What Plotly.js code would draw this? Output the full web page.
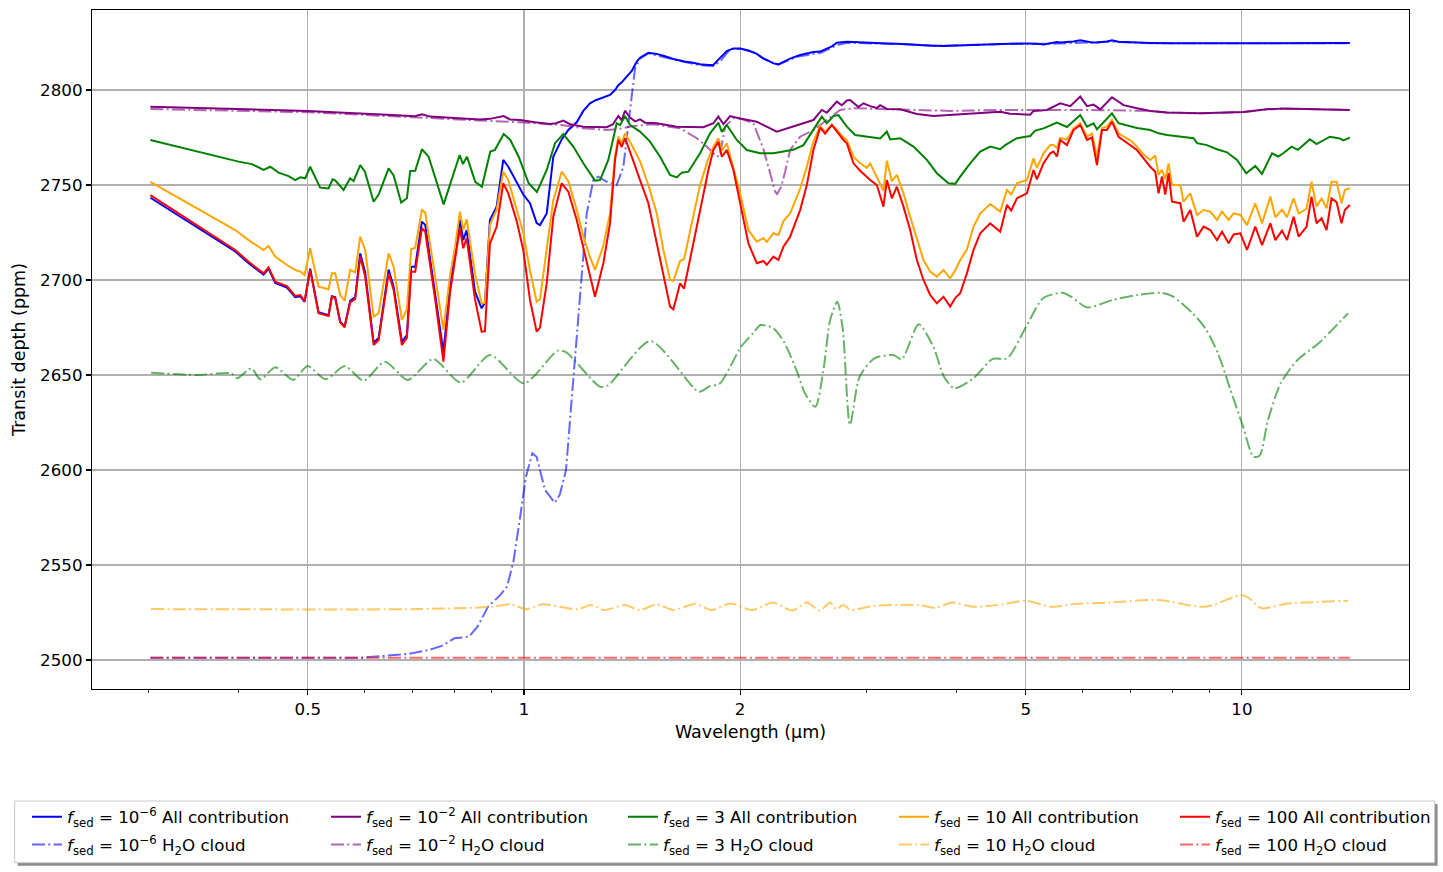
<!DOCTYPE html>
<html><head><meta charset="utf-8">
<script src="https://cdn.plot.ly/plotly-3.0.1.min.js"></script>
<style>html,body{margin:0;padding:0;background:#fff;overflow:hidden;width:1443px;height:872px}#chart{width:1443px;height:872px;overflow:hidden}</style>
</head><body><div id="chart"></div>
<script>
// ---------- DATA (wavelength in µm, transit depth in ppm) ----------
const wlMain = [0.3017,0.3447,0.3961,0.4135,0.4338,0.4408,0.4503,0.4675,0.4801,0.4879,
0.4948,0.5037,0.5174,0.5343,0.5400,0.5458,0.5546,0.5625,0.5727,0.5820,
0.5914,0.6009,0.6174,0.6274,0.6478,0.6583,0.6760,0.6869,0.6965,0.7055,
0.7208,0.7285,0.7523,0.7723,0.7886,0.8014,0.8143,0.8230,0.8320,0.8545,
0.8730,0.8823,0.8966,0.9161,0.9357,0.9509,0.9769,0.9977,1.0194,1.0415,
1.0527,1.0756,1.0986,1.1286,1.1528,1.1843,1.2096,1.2359,1.2559,1.2898,
1.3178,1.3391,1.3534,1.3682,1.3828,1.4129,1.4357,1.4510,1.4902,1.5308,
1.5637,1.5976,1.6146,1.6497,1.6710,1.7128,1.7591,1.8066,1.8357,1.8654,
1.8860,1.9164,1.9574,2.0000,2.0540,2.1101,2.1552,2.1788,2.2255,2.2615,
2.2981,2.3480,2.4246,2.4773,2.5302,2.5853,2.6271,2.6842,2.7276,2.7859,
2.8165,2.8768,2.9393,3.0031,3.0352,3.1011,3.1675,3.2022,3.2540,3.3066,
3.3775,3.4508,3.5258,3.6013,3.6795,3.7594,3.8399,3.9234,3.9868,4.0513,
4.1393,4.2279,4.3198,4.4607,4.6061,4.7061,4.7716,4.8596,5.0181,5.1256,
5.1818,5.2926,5.4077,5.4652,5.5252,5.5840,5.7053,5.8275,5.9541,6.0834,
6.1818,6.2817,6.3834,6.4866,6.5916,6.7326,6.8790,6.9902,7.1420,7.2949,
7.4535,7.5740,7.6546,7.7386,7.8210,7.9042,7.9910,8.2066,8.2939,8.4742,
8.6583,8.8437,9.0359,9.2322,9.3815,9.5822,9.7373,9.9490,10.165,10.439,
10.666,10.954,11.131,11.373,11.557,11.804,11.995,12.303,12.502,12.704,
12.910,13.119,13.331,13.546,13.765,13.911,14.137];

const red100All = [2744.7,2730.5,2715.8,2709.6,2703.5,2706.7,2699.1,2696.8,2691.6,2692.1,
2688.9,2705.3,2682.5,2681.0,2691.2,2690.5,2677.7,2675.1,2688.2,2690.0,
2712.3,2701.8,2665.8,2668.4,2703.5,2694.7,2665.8,2669.5,2704.4,2704.4,
2727.2,2725.5,2689.5,2657.0,2693.0,2710.5,2727.2,2716.7,2722.0,2690.0,
2672.8,2673.0,2719.3,2728.0,2750.9,2745.6,2731.0,2715.8,2689.5,2672.8,
2675.0,2698.2,2733.3,2750.9,2746.5,2731.6,2717.5,2703.5,2691.2,2708.8,
2729.8,2763.2,2773.7,2770.0,2774.6,2764.9,2758.0,2752.6,2740.4,2719.3,
2701.8,2686.0,2684.6,2698.2,2695.5,2715.8,2736.8,2757.9,2768.4,2772.8,
2764.9,2768.4,2757.9,2740.4,2719.3,2708.8,2710.0,2708.0,2712.3,2710.5,
2717.5,2722.8,2736.8,2750.0,2768.4,2780.2,2777.0,2781.6,2778.0,2773.7,
2772.0,2761.4,2757.5,2754.0,2752.6,2750.0,2738.6,2752.6,2743.0,2749.1,
2738.6,2726.3,2710.5,2700.0,2692.1,2687.7,2691.2,2686.0,2690.5,2693.0,
2703.5,2715.8,2724.6,2729.8,2725.4,2739.5,2736.5,2743.0,2745.6,2757.9,
2753.0,2761.4,2766.7,2767.6,2765.0,2773.7,2771.0,2778.9,2781.6,2773.7,
2775.0,2760.5,2778.9,2778.9,2783.3,2775.4,2773.0,2771.0,2768.4,2764.0,
2759.6,2757.0,2745.6,2754.4,2745.0,2756.2,2741.2,2740.4,2730.7,2736.8,
2722.8,2728.1,2726.3,2721.0,2725.4,2719.3,2724.0,2724.6,2715.8,2728.1,
2718.4,2729.8,2721.0,2726.0,2721.0,2733.3,2722.8,2728.0,2743.9,2729.8,
2732.5,2726.3,2743.0,2741.0,2729.8,2736.8,2739.5];

const orange10All = [2751.7,2739.2,2726.3,2721.0,2715.8,2717.9,2712.3,2707.9,2705.3,2704.5,
2702.6,2716.7,2696.5,2695.1,2703.5,2703.5,2692.1,2689.1,2705.3,2704.0,
2722.8,2715.8,2680.7,2682.5,2714.0,2707.0,2679.0,2684.5,2716.2,2717.0,
2736.8,2735.5,2701.8,2673.7,2702.0,2717.0,2736.0,2726.3,2732.0,2703.5,
2687.7,2688.0,2729.0,2737.0,2757.0,2752.6,2737.0,2725.0,2705.0,2688.6,
2690.0,2715.0,2742.0,2757.0,2752.0,2737.0,2723.0,2712.0,2705.3,2718.0,
2735.0,2765.0,2775.4,2772.0,2777.2,2771.0,2766.0,2762.5,2750.0,2735.0,
2715.8,2700.0,2699.5,2710.0,2711.0,2730.0,2750.0,2764.0,2770.0,2774.6,
2768.0,2772.0,2759.6,2745.6,2726.3,2720.2,2722.0,2720.0,2724.6,2723.7,
2731.0,2735.0,2748.0,2759.6,2773.0,2781.0,2778.0,2781.6,2779.0,2775.0,
2773.7,2764.9,2761.4,2759.0,2761.4,2754.0,2747.0,2762.8,2752.0,2755.3,
2745.6,2733.3,2721.9,2710.5,2704.4,2701.8,2705.3,2700.9,2705.0,2710.5,
2716.0,2728.0,2735.0,2740.0,2736.0,2747.4,2745.0,2750.9,2752.6,2764.0,
2759.0,2766.7,2771.0,2771.0,2769.5,2774.6,2774.0,2779.8,2782.5,2775.4,
2777.0,2764.9,2780.0,2780.7,2784.2,2777.2,2775.0,2773.5,2770.2,2766.0,
2763.2,2765.5,2755.3,2758.0,2753.0,2761.4,2750.0,2750.0,2741.2,2745.6,
2734.2,2736.8,2736.0,2731.6,2736.0,2731.6,2735.0,2734.2,2728.9,2740.4,
2729.8,2743.9,2733.0,2737.0,2733.0,2743.0,2735.0,2737.5,2751.7,2738.6,
2743.0,2737.7,2751.7,2751.7,2740.4,2747.4,2748.3];

const blue1e6All = [2743.3,2729.4,2715.0,2708.8,2702.8,2706.0,2698.5,2696.0,2691.0,2691.5,
2688.5,2706.0,2683.0,2681.5,2691.5,2691.0,2678.0,2675.5,2689.0,2691.0,
2714.0,2704.0,2667.0,2669.5,2705.5,2696.5,2667.5,2671.0,2707.0,2707.0,
2730.7,2729.0,2692.0,2662.0,2696.0,2714.0,2731.6,2721.0,2726.3,2694.0,
2685.1,2688.0,2731.6,2738.6,2763.2,2759.6,2751.7,2745.0,2740.4,2730.0,
2728.9,2735.0,2764.9,2774.0,2779.0,2783.0,2789.0,2793.0,2794.5,2796.0,
2797.4,2800.0,2802.5,2804.0,2805.8,2810.0,2814.9,2817.0,2819.6,2819.0,
2818.0,2816.7,2816.3,2815.5,2815.0,2814.5,2813.5,2813.2,2813.2,2816.0,
2818.0,2820.5,2821.9,2821.9,2820.8,2819.0,2816.5,2815.8,2814.0,2813.5,
2814.8,2816.5,2818.4,2819.2,2820.0,2820.2,2821.5,2823.0,2824.9,2825.2,
2825.4,2825.2,2825.0,2825.0,2824.9,2824.8,2824.6,2824.5,2824.4,2824.3,
2824.2,2824.0,2823.8,2823.6,2823.4,2823.2,2823.2,2823.3,2823.4,2823.5,
2823.6,2823.8,2824.0,2824.2,2824.3,2824.4,2824.4,2824.5,2824.5,2824.6,
2824.4,2824.0,2824.5,2825.0,2825.2,2825.0,2825.3,2825.5,2826.2,2825.3,
2825.0,2825.0,2825.2,2825.5,2826.2,2825.4,2825.2,2825.0,2824.9,2824.8,
2824.7,2824.6,2824.6,2824.6,2824.6,2824.6,2824.6,2824.6,2824.6,2824.6,
2824.6,2824.6,2824.6,2824.6,2824.6,2824.6,2824.6,2824.6,2824.7,2824.7,
2824.7,2824.7,2824.7,2824.7,2824.7,2824.7,2824.7,2824.7,2824.7,2824.7,
2824.7,2824.7,2824.7,2824.7,2824.7,2824.7,2824.7];

const wlBlueCloud = [0.3017,0.5946,0.6891,0.7372,0.7681,0.7998,0.8381,0.8617,0.8909,0.9259,
0.9469,0.9666,0.9863,1.0064,1.0273,1.0412,1.0697,1.1035,1.1217,1.1443,
1.1681,1.1904,1.2229,1.2490,1.2692,1.3039,1.3464,1.3753,1.4052,1.4279,
1.4510,1.4902,1.5976,1.7591,1.8357,1.8757,1.9368,2.0000,2.0872,2.1788,
2.2615,2.3990,2.5853,2.7276,2.8165,3.0352,3.3742,3.7594,4.6506,5.4077,
5.9541,6.5916,7.4535,14.137];
const blue1e6Cloud = [2501.2,2501.2,2503.2,2505.3,2507.4,2511.4,2512.3,2517.6,2528.0,2534.0,
2538.6,2551.7,2573.7,2596.5,2608.8,2607.0,2589.5,2582.8,2587.0,2600.0,
2642.0,2679.8,2735.0,2752.6,2754.4,2751.7,2750.0,2759.6,2791.2,2811.4,
2816.5,2819.3,2816.5,2813.0,2812.5,2815.0,2821.5,2821.7,2820.0,2815.6,
2813.3,2817.5,2819.5,2823.5,2824.8,2824.6,2824.2,2823.2,2824.2,2824.3,
2825.0,2825.4,2824.6,2824.6];

const wlPurpleAll = [0.3017,0.4995,0.6547,0.7048,0.7208,0.7396,0.8109,0.8683,0.8966,0.9169,
0.9370,0.9561,0.9872,1.0359,1.0870,1.1081,1.1344,1.1591,1.2096,1.3039,
1.3305,1.3534,1.3682,1.3828,1.4052,1.4279,1.4510,1.4745,1.5308,1.6323,
1.7778,1.8357,1.8654,1.8957,1.9368,2.0000,2.1101,2.2499,2.3730,2.5302,
2.5994,2.6415,2.7276,2.7717,2.8165,2.8465,2.9233,2.9706,3.0352,3.1011,
3.1341,3.2022,3.3419,3.5258,3.7186,3.9234,4.6061,4.7563,5.0716,5.1256,
5.3506,5.5840,5.7661,5.9541,6.0834,6.2136,6.3487,6.5916,6.8415,7.1420,
7.4535,7.8637,8.7506,10.055,10.824,11.416,14.137];
const purple1e2All = [2791.2,2789.0,2786.8,2786.2,2787.2,2786.0,2785.1,2784.5,2784.8,2785.5,
2786.3,2784.5,2784.2,2783.0,2782.1,2782.5,2783.9,2782.0,2780.7,2780.4,
2782.0,2786.3,2784.0,2789.1,2785.5,2783.5,2784.5,2782.8,2782.5,2780.7,
2780.4,2782.5,2786.0,2782.0,2786.3,2785.0,2783.3,2778.1,2781.0,2784.2,
2789.5,2788.0,2793.9,2792.0,2794.5,2794.7,2791.0,2793.0,2791.5,2790.5,
2792.0,2790.0,2789.8,2787.4,2786.3,2786.8,2788.6,2787.5,2787.0,2789.0,
2789.5,2793.0,2791.5,2796.5,2791.5,2792.3,2789.8,2796.2,2792.0,2790.4,
2789.0,2788.1,2787.7,2788.4,2789.8,2790.2,2789.5];

const wlPurpleCloud = [0.3017,0.4995,0.8109,0.9872,1.1344,1.2096,1.3039,1.3464,1.4202,1.5128,
1.6497,1.7405,1.7973,1.8559,1.8757,1.9060,1.9574,2.0000,2.0872,2.1552,
2.2021,2.2377,2.2520,2.2812,2.3107,2.3480,2.4246,2.5302,2.6415,2.7566,
2.8768,3.3419,3.9234,4.6061,5.3557,6.3487,7.4535,7.8637,8.7506,10.055,
10.824,11.416,14.137];
const purple1e2Cloud = [2790.0,2788.3,2784.5,2783.0,2781.5,2779.8,2779.0,2779.3,2781.0,2782.0,
2779.8,2774.6,2770.2,2764.9,2766.0,2780.7,2785.1,2785.0,2782.5,2769.0,
2756.2,2746.5,2745.3,2749.0,2757.0,2768.4,2775.4,2778.9,2784.2,2789.5,
2790.4,2789.8,2789.0,2789.5,2789.5,2789.4,2789.0,2788.1,2787.7,2788.4,
2789.8,2790.2,2789.5];

const wlGreenAll = [0.3017,0.4004,0.4179,0.4338,0.4431,0.4552,0.4700,0.4801,0.4879,0.4958,
0.5037,0.5201,0.5343,0.5413,0.5458,0.5607,0.5727,0.5790,0.5914,0.6004,
0.6174,0.6274,0.6478,0.6583,0.6745,0.6869,0.6943,0.7055,0.7208,0.7365,
0.7728,0.7894,0.8135,0.8222,0.8328,0.8553,0.8739,0.8975,0.9111,0.9370,
0.9570,0.9831,1.0151,1.0425,1.0756,1.1046,1.1344,1.1714,1.2096,1.2559,
1.2762,1.3106,1.3464,1.3608,1.3828,1.4052,1.4510,1.4983,1.5472,1.5976,
1.6323,1.6587,1.6942,1.7591,1.8164,1.8654,1.8860,1.9164,1.9789,2.0434,
2.1325,2.2255,2.2981,2.3707,2.4504,2.5302,2.5994,2.6415,2.6980,2.7416,
2.8165,2.8925,3.0031,3.1341,3.2022,3.2363,3.3419,3.4875,3.6408,3.7594,
3.9020,3.9868,4.0513,4.1834,4.3198,4.4607,4.6061,4.6806,4.8596,5.0716,
5.1536,5.2926,5.5252,5.7053,5.9541,6.0834,6.2136,6.2817,6.4163,6.5916,
6.7326,6.9902,7.1420,7.4535,7.6546,7.8637,8.2939,8.5644,8.6583,8.9407,
9.2322,9.5332,9.8441,10.142,10.439,10.666,11.014,11.238,11.416,11.728,
11.967,12.437,12.704,13.258,13.690,13.836,14.137];
const green3All = [2773.7,2762.3,2761.0,2757.9,2759.6,2756.5,2754.7,2752.6,2754.0,2753.5,
2759.6,2748.6,2748.2,2753.0,2752.5,2747.4,2753.5,2752.0,2760.5,2757.0,
2741.2,2745.0,2758.8,2755.0,2740.7,2743.0,2757.4,2757.5,2768.8,2764.9,
2739.8,2750.5,2765.8,2761.0,2764.9,2751.7,2749.1,2767.6,2768.5,2776.8,
2773.7,2764.9,2750.9,2746.3,2757.9,2772.0,2776.8,2770.2,2761.4,2752.3,
2752.6,2763.2,2782.5,2781.5,2786.3,2781.5,2778.1,2772.8,2764.9,2755.3,
2754.0,2756.5,2757.0,2766.7,2777.2,2782.8,2778.0,2781.6,2773.7,2768.4,
2766.7,2766.7,2767.6,2768.5,2771.0,2778.9,2786.0,2782.5,2786.3,2786.8,
2780.7,2776.3,2775.4,2774.5,2778.1,2774.0,2774.6,2770.2,2763.2,2756.2,
2750.9,2750.6,2754.4,2761.4,2767.6,2770.2,2768.8,2771.0,2774.6,2775.8,
2778.6,2779.8,2782.8,2780.5,2786.8,2780.7,2782.5,2779.3,2783.0,2787.7,
2782.5,2781.0,2780.0,2778.9,2777.2,2776.3,2775.4,2774.6,2772.0,2771.0,
2768.8,2767.2,2763.2,2756.2,2760.0,2755.8,2766.7,2765.0,2766.7,2770.2,
2768.5,2774.1,2771.5,2775.4,2774.5,2773.5,2774.9];

const wlGreenCloud = [0.3024,0.3507,0.3906,0.3987,0.4169,0.4295,0.4503,0.4772,0.4997,0.5295,
0.5627,0.5980,0.6400,0.6891,0.7475,0.8161,0.8972,1.0000,1.1142,1.1443,
1.2754,1.3093,1.5002,1.7523,1.8130,1.8750,2.0064,2.0838,2.1359,2.2248,
2.3011,2.3959,2.4622,2.5465,2.6162,2.6696,2.7320,2.7806,2.8447,2.9346,
3.0774,3.2697,3.3591,3.5461,3.7174,3.8461,3.9779,4.2279,4.4923,4.7106,
5.0053,5.2841,5.6145,5.7661,6.0891,6.6042,7.1604,7.7138,7.9986,8.5369,
8.8921,9.2615,9.6410,10.039,10.372,10.584,10.873,11.321,11.952,12.789,
14.058];
const green3Cloud = [2651.2,2650.0,2650.9,2648.3,2653.5,2647.7,2654.1,2647.4,2654.7,2647.7,
2654.7,2647.0,2657.0,2647.4,2658.4,2646.0,2660.5,2645.6,2662.8,2662.0,
2643.9,2644.5,2667.9,2641.2,2644.0,2645.6,2664.9,2671.9,2676.3,2674.6,
2667.5,2652.6,2640.4,2633.3,2654.4,2678.9,2688.6,2673.7,2623.7,2649.1,
2658.8,2660.5,2658.2,2676.7,2664.9,2649.1,2643.0,2648.3,2658.4,2658.8,
2675.4,2690.4,2693.3,2691.5,2685.6,2689.5,2692.1,2693.3,2691.5,2682.5,
2674.6,2661.4,2642.1,2622.8,2607.0,2607.5,2626.3,2645.6,2657.9,2666.7,
2682.5];

const wlOrangeCloud = [0.3024,0.7162,0.9024,0.9592,1.0064,1.0629,1.1839,1.2415,1.2927,1.3828,
1.4501,1.5308,1.6156,1.7288,1.8252,1.9393,2.0785,2.2248,2.3631,2.4788,
2.5811,2.6696,2.7250,2.7833,2.8556,3.0547,3.5461,3.7426,3.9512,4.2279,
4.6461,5.0053,5.4286,5.8480,6.5136,7.6619,8.8921,9.9714,10.194,10.656,
11.479,14.058];
const orange10Cloud = [2526.8,2526.8,2528.0,2529.3,2526.7,2529.3,2526.7,2528.9,2526.3,2528.9,
2526.3,2529.3,2526.3,2529.5,2526.3,2529.8,2526.3,2530.2,2526.0,2530.2,
2526.0,2530.2,2526.7,2529.0,2526.3,2528.4,2528.9,2527.5,2530.2,2528.0,
2529.3,2531.2,2528.0,2529.5,2530.2,2531.6,2528.0,2534.2,2533.0,2527.2,
2529.5,2531.2];

const wlRedCloud = [0.3017,1.0,5.0,14.137];
const red100Cloud = [2501.2,2501.2,2501.2,2501.2];

const xTickVals = [0.5,1,2,5,10];
const xTickText = ['0.5','1','2','5','10'];
const xMinorVals = [0.3,0.4,0.6,0.7,0.8,0.9,3,4,6,7,8,9];

const labelsAll = [
  '<i>f</i><sub>sed</sub> = 10<sup>−6</sup> All contribution',
  '<i>f</i><sub>sed</sub> = 10<sup>−2</sup> All contribution',
  '<i>f</i><sub>sed</sub> = 3 All contribution',
  '<i>f</i><sub>sed</sub> = 10 All contribution',
  '<i>f</i><sub>sed</sub> = 100 All contribution'];
const labelsCloud = [
  '<i>f</i><sub>sed</sub> = 10<sup>−6</sup> H<sub>2</sub>O cloud',
  '<i>f</i><sub>sed</sub> = 10<sup>−2</sup> H<sub>2</sub>O cloud',
  '<i>f</i><sub>sed</sub> = 3 H<sub>2</sub>O cloud',
  '<i>f</i><sub>sed</sub> = 10 H<sub>2</sub>O cloud',
  '<i>f</i><sub>sed</sub> = 100 H<sub>2</sub>O cloud'];

// ---------- STYLE / LAYOUT ----------
const FONT = '"DejaVu Sans", Verdana, sans-serif';
const DASH = '13px,3.3px,2px,3.3px';
const W = 1443, H = 872, ML = 92, MR = 34, MT = 10, MB = 183;
const PW = W - ML - MR, PH = H - MT - MB;
const px = p => (p - ML) / PW;
const py = p => (H - MB - p) / PH;

function solid(x, y, color, name, legend, grp) {
  return {type:'scatter', mode:'lines', x:x, y:y, name:name, legend:legend, legendgroup:grp,
          line:{color:color, width:2}, hoverinfo:'skip'};
}
function cloud(x, y, color, name, legend, grp, shape) {
  return {type:'scatter', mode:'lines', x:x, y:y, name:name, legend:legend, legendgroup:grp,
          line:{color:color, width:2, dash:DASH, shape:shape || 'linear', smoothing:0.7}, hoverinfo:'skip'};
}

const traces = [
  solid(wlMain, blue1e6All, '#0000ff', labelsAll[0], 'legend', 'a1'),
  cloud(wlBlueCloud, blue1e6Cloud, 'rgba(0,0,255,0.6)', labelsCloud[0], 'legend', 'c1'),
  solid(wlPurpleAll, purple1e2All, '#800080', labelsAll[1], 'legend2', 'a2'),
  cloud(wlPurpleCloud, purple1e2Cloud, 'rgba(128,0,128,0.6)', labelsCloud[1], 'legend2', 'c2'),
  solid(wlGreenAll, green3All, '#008000', labelsAll[2], 'legend3', 'a3'),
  cloud(wlGreenCloud, green3Cloud, 'rgba(0,128,0,0.6)', labelsCloud[2], 'legend3', 'c3', 'spline'),
  solid(wlMain, orange10All, '#ffa500', labelsAll[3], 'legend4', 'a4'),
  cloud(wlOrangeCloud, orange10Cloud, 'rgba(255,165,0,0.6)', labelsCloud[3], 'legend4', 'c4', 'spline'),
  solid(wlMain, red100All, '#ff0000', labelsAll[4], 'legend5', 'a5'),
  cloud(wlRedCloud, red100Cloud, 'rgba(255,0,0,0.6)', labelsCloud[4], 'legend5', 'c5')
];

const legTop = py(799.5);
function leg(leftPx) {
  return {x:px(leftPx), y:legTop, xanchor:'left', yanchor:'top', orientation:'v',
          traceorder:'grouped', bgcolor:'rgba(0,0,0,0)', borderwidth:0, tracegroupgap:3, itemwidth:30,
          font:{family:FONT, size:16.7, color:'#000'}};
}

const axisCommon = {
  showline:true, linecolor:'#000', linewidth:1.1, mirror:true, zeroline:false,
  showgrid:true, gridcolor:'#b0b0b0', gridwidth:1.1,
  ticks:'outside', ticklen:5, tickwidth:1.1, tickcolor:'#000',
  tickfont:{family:FONT, size:16.7, color:'#000'}, automargin:false
};

const layout = {
  width:W, height:H, margin:{l:ML, r:MR, t:MT, b:MB, autoexpand:false},
  paper_bgcolor:'#fff', plot_bgcolor:'#fff',
  font:{family:FONT, color:'#000'},
  showlegend:true,
  xaxis: Object.assign({}, axisCommon, {
    type:'log', range:[Math.log10(0.2502), Math.log10(17.09)],
    tickmode:'array', tickvals:xTickVals, ticktext:xTickText,
    minor:{tickmode:'array', tickvals:xMinorVals, ticks:'outside', ticklen:3, tickwidth:0.8, tickcolor:'#000', showgrid:false},
    title:{text:'Wavelength (µm)', font:{family:FONT, size:17.5, color:'#000'}, standoff:7}
  }),
  yaxis: Object.assign({}, axisCommon, {
    range:[2484.74, 2842.1], tickmode:'linear', tick0:2500, dtick:50,
    title:{text:'Transit depth (ppm)', font:{family:FONT, size:17.5, color:'#000'}, standoff:10}
  }),
  legend: leg(27), legend2: leg(326), legend3: leg(623), legend4: leg(894), legend5: leg(1175),
  shapes:[
    {type:'rect', xref:'paper', yref:'paper', x0:px(17.7), x1:px(1437.6), y0:py(865.7), y1:py(804),
     fillcolor:'rgba(0,0,0,0.45)', line:{width:0}, layer:'above'},
    {type:'rect', xref:'paper', yref:'paper', x0:px(14.7), x1:px(1434.6), y0:py(862.7), y1:py(801),
     fillcolor:'#ffffff', line:{color:'#c8c8c8', width:1}, layer:'above'}
  ],
  hovermode:false
};

Plotly.newPlot('chart', traces, layout, {displayModeBar:false, staticPlot:true});
</script></body></html>
